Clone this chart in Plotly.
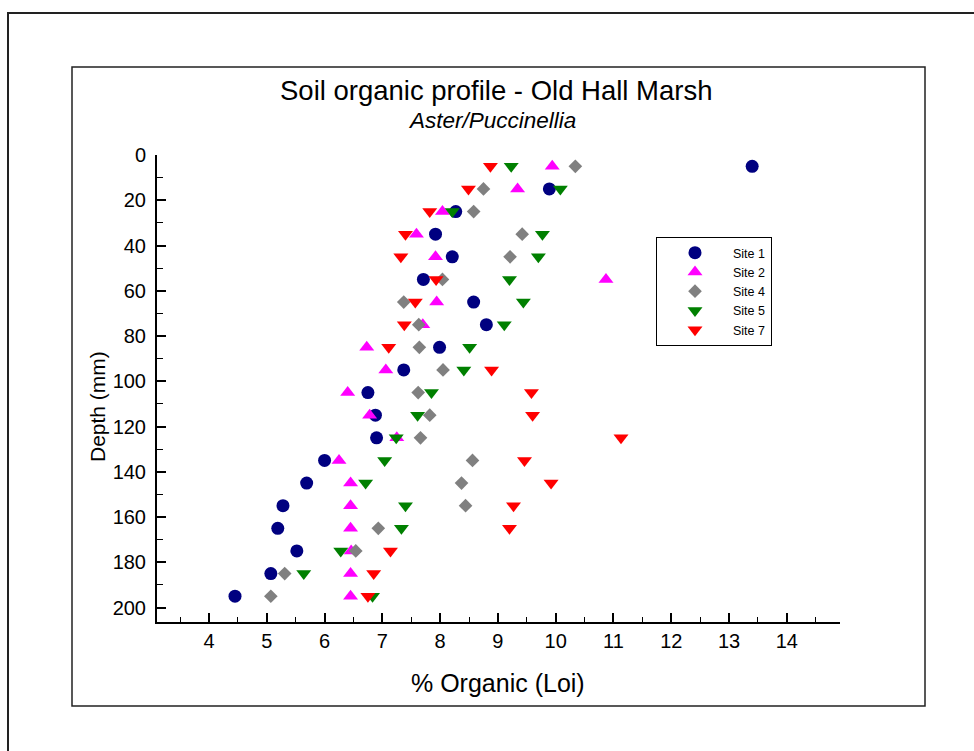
import plotly.graph_objects as go

depth = [5, 15, 25, 35, 45, 55, 65, 75, 85, 95, 105, 115, 125, 135, 145, 155, 165, 175, 185, 195]

site1 = [13.40, 9.89, 8.27, 7.92, 8.21, 7.71, 8.58, 8.80, 7.99, 7.37,
         6.75, 6.88, 6.90, 6.00, 5.69, 5.28, 5.19, 5.52, 5.07, 4.45]
site2 = [9.94, 9.34, 8.04, 7.59, 7.92, 10.87, 7.94, 7.70, 6.73, 7.06,
         6.40, 6.78, 7.25, 6.25, 6.45, 6.45, 6.45, 6.46, 6.45, 6.45]
site4 = [10.34, 8.75, 8.58, 9.42, 9.21, 8.04, 7.37, 7.63, 7.64, 8.05,
         7.62, 7.82, 7.66, 8.56, 8.37, 8.44, 6.93, 6.54, 5.31, 5.07]
site5 = [9.23, 10.08, 8.21, 9.77, 9.70, 9.20, 9.44, 9.11, 8.51, 8.41,
         7.85, 7.61, 7.24, 7.04, 6.71, 7.40, 7.33, 6.28, 5.64, 6.83]
site7 = [8.87, 8.49, 7.82, 7.40, 7.32, 7.93, 7.57, 7.38, 7.11, 8.89,
         9.58, 9.60, 11.13, 9.46, 9.92, 9.27, 9.20, 7.14, 6.85, 6.75]

series = [
    ("Site 1", site1, "circle", "#000080", 13),
    ("Site 2", site2, "triangle-up", "#FF00FF", 13),
    ("Site 4", site4, "diamond", "#808080", 10.5),
    ("Site 5", site5, "triangle-down", "#008000", 13),
    ("Site 7", site7, "triangle-down", "#FF0000", 13),
]

FONT = "Arial, Liberation Sans, sans-serif"

fig = go.Figure()
for name, vals, sym, col, sz in series:
    fig.add_trace(go.Scatter(
        x=vals, y=depth, mode="markers", name=name,
        marker=dict(symbol=sym, color=col, size=sz, line=dict(width=0)),
    ))

W, H = 974, 751
L, R, T, B = 157, 840, 155, 622
pw, ph = R - L, B - T

def px(x):
    return (x - L) / pw

def py(y):
    return (B - y) / ph

fig.update_layout(
    width=W, height=H,
    margin=dict(l=L, r=W - R, t=T, b=H - B, pad=0),
    paper_bgcolor="white", plot_bgcolor="white",
    font=dict(family=FONT, color="black"),
    showlegend=True,
    legend=dict(
        x=px(656), y=py(237), xanchor="left", yanchor="top",
        bgcolor="white", bordercolor="black", borderwidth=1,
        font=dict(size=12.5, family=FONT, color="black"),
        itemwidth=66, tracegroupgap=0,
    ),
    xaxis=dict(
        range=[3.1, 14.92], showgrid=False, zeroline=False,
        showline=True, linecolor="black", linewidth=2,
        ticks="inside", ticklen=9, tickwidth=1.5, tickcolor="black",
        tickmode="linear", tick0=4, dtick=1,
        minor=dict(ticks="inside", ticklen=5, tickwidth=1, tickcolor="black", dtick=0.5, tick0=4),
        tickfont=dict(size=20, family=FONT, color="black"),
        fixedrange=True,
    ),
    yaxis=dict(
        range=[206.4, 0], showgrid=False, zeroline=False,
        showline=True, linecolor="black", linewidth=2,
        ticks="inside", ticklen=9, tickwidth=1.5, tickcolor="black",
        tickmode="linear", tick0=0, dtick=20,
        minor=dict(ticks="inside", ticklen=6, tickwidth=1, tickcolor="black", dtick=10, tick0=0),
        tickfont=dict(size=20, family=FONT, color="black"),
        ticklabelstandoff=5,
        fixedrange=True,
    ),
    annotations=[
        dict(text="Soil organic profile - Old Hall Marsh", x=px(496), y=py(90), xref="paper", yref="paper",
             xanchor="center", yanchor="middle", showarrow=False,
             font=dict(size=27.5, family=FONT, color="black")),
        dict(text="<i>Aster/Puccinellia</i>", x=px(492), y=py(121), xref="paper", yref="paper",
             xanchor="center", yanchor="middle", showarrow=False,
             font=dict(size=22.5, family=FONT, color="black")),
        dict(text="% Organic (Loi)", x=px(498), y=py(683), xref="paper", yref="paper",
             xanchor="center", yanchor="middle", showarrow=False,
             font=dict(size=25, family=FONT, color="black")),
        dict(text="Depth (mm)", x=px(97), y=py(407), xref="paper", yref="paper",
             xanchor="center", yanchor="middle", showarrow=False, textangle=-90,
             font=dict(size=21, family=FONT, color="black")),
    ],
    shapes=[
        dict(type="rect", xref="paper", yref="paper", x0=px(72), x1=px(925), y0=py(706), y1=py(67),
             line=dict(color="#222222", width=1.5), fillcolor="rgba(0,0,0,0)", layer="below"),
        dict(type="rect", xref="paper", yref="paper", x0=px(8), x1=px(990), y0=py(770), y1=py(13),
             line=dict(color="#222222", width=2), fillcolor="rgba(0,0,0,0)", layer="below"),
    ],
)

fig.write_html("out.html", config={"displayModeBar": False})
